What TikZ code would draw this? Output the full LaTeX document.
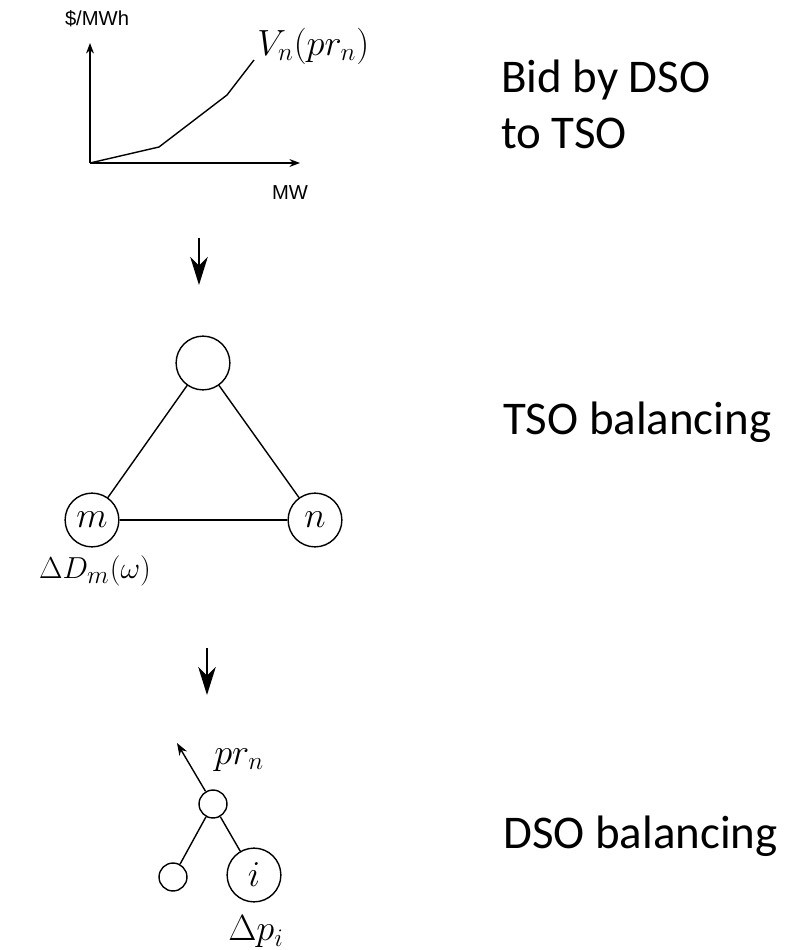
\documentclass[tikz,border=0pt]{standalone}
\usepackage{fontspec}
\setmainfont{Carlito}
\newfontfamily\axisfont{Liberation Sans}
\usetikzlibrary{arrows.meta,positioning}

\tikzset{
  bus/.style={draw, circle, line width=0.8pt, inner sep=0pt, minimum size=30.6pt, font=\fontsize{22}{25}\selectfont},
  smallbus/.style={draw, circle, line width=0.8pt, inner sep=0pt, minimum size=15.9pt},
  line/.style={line width=0.8pt},
  steparrow/.style={line width=0.8pt, -{Stealth[length=16pt, width=10pt, inset=5pt]}},
  stagetext/.style={anchor=base west, align=left, font=\fontsize{26.7}{31.75}\selectfont},
  mathlabel/.style={inner sep=0pt, font=\fontsize{22}{25}\selectfont},
  axislabel/.style={inner sep=0pt, font=\axisfont\fontsize{11.5}{13}\selectfont}
}

\begin{document}
\begin{tikzpicture}[x=0.02cm, y=-0.02cm]
\useasboundingbox (0,0) rectangle (797,950);

% Bid curve
\coordinate (O) at (90,163);
\coordinate (ytop) at (90,43);
\coordinate (xend) at (300,163);
\draw[line, -{Stealth[length=6pt, width=4.5pt]}] (O) -- (ytop);
\draw[line, -{Stealth[length=6pt, width=4.5pt]}] (O) -- (xend);
\draw[line] (O) -- (159,147) -- (227,95) -- (254,60) coordinate (cend);
\node[axislabel] (price) at (97,19) {\$/MWh};
\node[axislabel] (power) at (290,193) {MW};
\node[mathlabel, anchor=west] (bid) at (257,46) {$V_n(pr_n)$};

% Arrow to TSO stage
\coordinate (a1s) at (199,238);
\coordinate (a1e) at (199,285);
\draw[steparrow] (a1s) -- (a1e);

% TSO network
\node[bus] (top) at (203,363) {};
\node[bus] (m) at (92,520) {$m$};
\node[bus] (n) at (315,520) {$n$};
\draw[line] (top) -- (m);
\draw[line] (top) -- (n);
\draw[line] (m) -- (n);
\node[mathlabel, font=\fontsize{19}{22}\selectfont] (dD) at (95,571) {$\Delta D_m(\omega)$};

% Arrow to DSO stage
\coordinate (a2s) at (207,648);
\coordinate (a2e) at (207,695);
\draw[steparrow] (a2s) -- (a2e);

% DSO feeder
\node[smallbus] (root) at (213,804) {};
\node[smallbus] (leaf) at (173,877) {};
\node[bus] (i) at (254,875) {$i$};
\coordinate (pout) at (177,743);
\draw[line] (root) -- (leaf);
\draw[line] (root) -- (i);
\draw[line, -{Stealth[length=7pt, width=5pt]}] (root) -- (pout);
\node[mathlabel, anchor=base west] (pr) at (214,764) {$pr_n$};
\node[mathlabel] (dp) at (256,932) {$\Delta p_i$};

% Stage descriptions
\node[stagetext] (s1) at (495,148) {Bid by DSO\\to TSO};
\node[stagetext] (s2) at (497,434) {TSO balancing};
\node[stagetext] (s3) at (497,848) {DSO balancing};
\end{tikzpicture}
\end{document}
